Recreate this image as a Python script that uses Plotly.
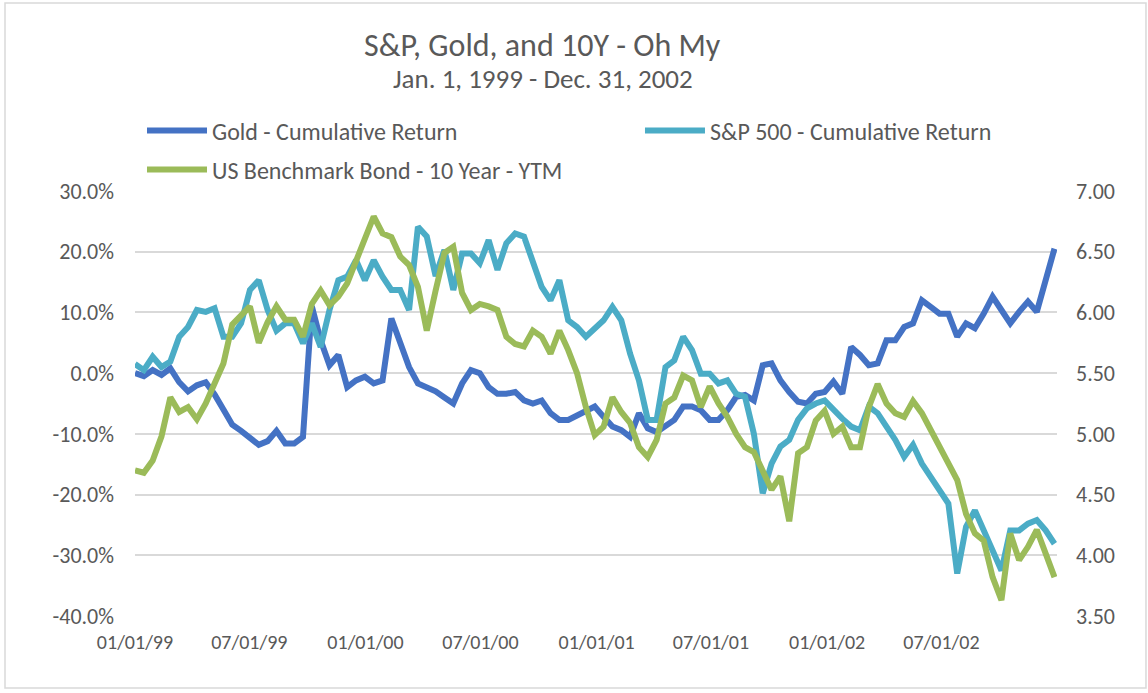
import pandas as pd
import plotly.graph_objects as go

# Bi-weekly sample dates, Jan 1 1999 - Dec 2002
dates = pd.date_range("1999-01-01", periods=105, freq="14D")

# Gold - cumulative return (%)
gold = [0.0, -0.5, 0.5, -0.3, 0.8, -1.5, -3.0, -2.0, -1.5, -3.5,
        -6.0, -8.5, -9.5, -10.8, -11.8, -11.2, -9.5, -11.6, -11.6, -10.5,
        11.0, 5.4, 1.3, 3.0, -2.3, -1.2, -0.6, -1.7, -1.2, 9.0,
        4.9, 1.0, -1.7, -2.3, -3.0, -4.0, -5.0, -1.7, 0.5, 0.0,
        -2.3, -3.4, -3.4, -3.1, -4.5, -5.0, -4.5, -6.6, -7.7, -7.7,
        -6.9, -6.1, -5.5, -7.2, -8.8, -9.4, -10.5, -6.6, -9.1, -9.7,
        -8.8, -7.7, -5.5, -5.5, -6.1, -7.7, -7.7, -6.1, -3.9, -3.6,
        -4.5, 1.3, 1.6, -1.2, -3.1, -4.7, -5.0, -3.4, -3.1, -1.4,
        -3.4, 4.3, 3.0, 1.3, 1.6, 5.4, 5.4, 7.6, 8.2, 12.0,
        10.9, 9.8, 9.8, 6.0, 8.2, 7.4, 9.8, 12.6, 10.4, 8.2,
        10.1, 11.8, 10.1, 15.3, 20.5]

# S&P 500 - cumulative return (%)
spx = [1.5, 0.5, 2.7, 1.0, 1.9, 6.0, 7.6, 10.4, 10.1, 10.7,
       6.0, 6.0, 8.2, 13.7, 15.3, 10.4, 7.0, 8.2, 8.2, 4.9,
       8.2, 4.3, 10.4, 15.3, 15.9, 18.6, 15.3, 18.6, 15.9, 13.7,
       13.7, 10.4, 24.1, 22.5, 16.0, 20.3, 13.7, 19.7, 19.7, 18.1,
       21.9, 17.0, 21.4, 23.0, 22.5, 18.6, 14.2, 12.0, 15.3, 8.7,
       7.6, 6.0, 7.3, 8.7, 10.9, 8.7, 3.2, -1.2, -7.7, -7.7,
       1.0, 2.1, 6.0, 3.8, -0.1, -0.1, -1.7, -1.2, -3.4, -3.9,
       -10.0, -19.8, -14.9, -12.1, -11.0, -7.7, -5.8, -5.0, -4.5, -6.1,
       -7.5, -8.8, -9.4, -5.5, -6.6, -8.8, -11.0, -13.8, -11.8, -14.9,
       -17.1, -19.3, -21.5, -33.0, -25.3, -22.6, -25.9, -29.2, -32.5, -25.9,
       -25.9, -24.8, -24.2, -25.9, -28.1]

# US Benchmark Bond - 10 Year - YTM
bond = [4.70, 4.68, 4.78, 4.98, 5.30, 5.18, 5.22, 5.12, 5.25, 5.42,
        5.58, 5.90, 5.98, 6.05, 5.75, 5.92, 6.05, 5.94, 5.94, 5.80,
        6.07, 6.18, 6.06, 6.13, 6.24, 6.42, 6.60, 6.79, 6.65, 6.62,
        6.46, 6.39, 6.21, 5.85, 6.18, 6.49, 6.54, 6.16, 6.02, 6.07,
        6.05, 6.02, 5.80, 5.74, 5.72, 5.85, 5.80, 5.66, 5.85, 5.69,
        5.50, 5.22, 4.99, 5.06, 5.30, 5.18, 5.09, 4.89, 4.81, 4.95,
        5.25, 5.30, 5.48, 5.44, 5.22, 5.39, 5.25, 5.14, 5.00, 4.89,
        4.85, 4.70, 4.54, 4.65, 4.28, 4.84, 4.89, 5.11, 5.19, 5.00,
        5.06, 4.89, 4.89, 5.22, 5.41, 5.25, 5.17, 5.14, 5.27, 5.17,
        5.03, 4.89, 4.76, 4.62, 4.34, 4.18, 4.12, 3.82, 3.63, 4.18,
        3.96, 4.07, 4.21, 4.01, 3.82]

tick_dates = ["1999-01-01", "1999-07-01", "2000-01-01", "2000-07-01",
              "2001-01-01", "2001-07-01", "2002-01-01", "2002-07-01"]
tick_labels = ["01/01/99", "07/01/99", "01/01/00", "07/01/00",
               "01/01/01", "07/01/01", "01/01/02", "07/01/02"]

left_ticks = [-0.40, -0.30, -0.20, -0.10, 0.0, 0.10, 0.20, 0.30]
left_labels = ["-40.0%", "-30.0%", "-20.0%", "-10.0%", "0.0%", "10.0%", "20.0%", "30.0%"]
right_ticks = [3.5, 4.0, 4.5, 5.0, 5.5, 6.0, 6.5, 7.0]
right_labels = ["3.50", "4.00", "4.50", "5.00", "5.50", "6.00", "6.50", "7.00"]

FONT = "Carlito, Lato, sans-serif"
GREY = "#595959"
LW = 6

fig = go.Figure()
fig.add_trace(go.Scatter(x=dates, y=[v / 100 for v in gold], mode="lines",
                         name="Gold - Cumulative Return",
                         line=dict(color="#4472C4", width=LW), legend="legend"))
fig.add_trace(go.Scatter(x=dates, y=[v / 100 for v in spx], mode="lines",
                         name="S&P 500 - Cumulative Return",
                         line=dict(color="#4BACC6", width=LW), legend="legend2"))
fig.add_trace(go.Scatter(x=dates, y=bond, mode="lines", yaxis="y2",
                         name="US Benchmark Bond - 10 Year - YTM",
                         line=dict(color="#9BBB59", width=LW), legend="legend3"))

legend_common = dict(font=dict(family=FONT, size=24, color=GREY),
                     bgcolor="rgba(0,0,0,0)", xanchor="left", yanchor="middle",
                     orientation="h", itemwidth=60)

fig.update_layout(
    width=1148, height=693,
    margin=dict(l=135, r=91, t=191, b=77),
    paper_bgcolor="white", plot_bgcolor="white",
    font=dict(family=FONT, color=GREY),
    showlegend=True,
    legend=dict(x=0.0076, y=1.1412, **legend_common),
    legend2=dict(x=0.5477, y=1.1412, **legend_common),
    legend3=dict(x=0.0076, y=1.0494, **legend_common),
    xaxis=dict(type="date", range=["1999-01-01", "2002-12-31"],
               tickvals=tick_dates, ticktext=tick_labels,
               showgrid=False, showline=False, zeroline=False, ticks="",
               ticklabelstandoff=12,
               tickfont=dict(family=FONT, size=20, color=GREY)),
    yaxis=dict(range=[-0.40, 0.30], tickvals=left_ticks, ticktext=left_labels,
               showgrid=True, gridcolor="#D9D9D9", gridwidth=1.5,
               zeroline=False, showline=False, ticks="",
               ticklabelstandoff=20,
               tickfont=dict(family=FONT, size=22, color=GREY)),
    yaxis2=dict(range=[3.5, 7.0], tickvals=right_ticks, ticktext=right_labels,
                overlaying="y", side="right", showgrid=False,
                zeroline=False, showline=False, ticks="",
                ticklabelstandoff=18,
                tickfont=dict(family=FONT, size=22, color=GREY)),
    annotations=[
        dict(text="S&P, Gold, and 10Y - Oh My", xref="paper", yref="paper",
             x=0.4425, y=(616 - 45) / 425, xanchor="center", yanchor="middle",
             showarrow=False, font=dict(family=FONT, size=32, color=GREY)),
        dict(text="Jan. 1, 1999 - Dec. 31, 2002", xref="paper", yref="paper",
             x=0.4425, y=(616 - 78) / 425, xanchor="center", yanchor="middle",
             showarrow=False, font=dict(family=FONT, size=27, color=GREY)),
    ],
    shapes=[dict(type="rect", xref="paper", yref="paper",
                 x0=-0.141, x1=1.0965, y0=-0.1694, y1=1.4424,
                 line=dict(color="#D9D9D9", width=1.5), fillcolor="rgba(0,0,0,0)",
                 layer="below")],
)

fig.write_html("out.html", config={"displayModeBar": False},
               post_script="document.body.style.margin='0px';")
